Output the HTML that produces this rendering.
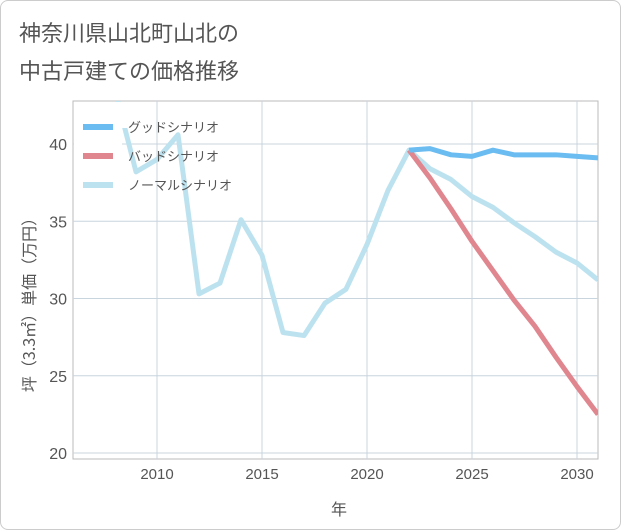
<!DOCTYPE html>
<html><head><meta charset="utf-8"><style>
body{margin:0;background:#fff;font-family:"Liberation Sans","Noto Sans CJK JP",sans-serif;}
#wrap{position:relative;width:619px;height:528px;border:1px solid #ccc;border-radius:8px;overflow:hidden;background:#fff}
</style></head><body>
<div id="wrap">
<svg id="chart" width="621" height="530">
<text x="18" y="40" font-size="22" fill="#555" font-family="Liberation Sans, Noto Sans CJK JP, sans-serif">神奈川県山北町山北の</text>
<text x="18" y="78" font-size="22" fill="#555" font-family="Liberation Sans, Noto Sans CJK JP, sans-serif">中古戸建ての価格推移</text>
<text x="338" y="514" font-size="16" fill="#555" text-anchor="middle" font-family="Noto Sans CJK JP, sans-serif">年</text>
<text transform="translate(34,300) rotate(-90)" font-size="16" fill="#555" text-anchor="middle" font-family="Noto Sans CJK JP, sans-serif">坪（3.3㎡）単価（万円）</text>
<defs><clipPath id="pc"><rect x="72" y="100" width="525" height="360"/></clipPath></defs>
<g id="grid"></g><g id="series" clip-path="url(#pc)"></g><g id="legend"></g>
</svg>
</div>
<script>
const years=[2008,2009,2010,2011,2012,2013,2014,2015,2016,2017,2018,2019,2020,2021,2022,2023,2024,2025,2026,2027,2028,2029,2030,2031];
const normal=[43.5,38.2,39.0,40.6,30.3,31.0,35.1,32.8,27.8,27.6,29.7,30.6,33.5,37.0,39.6,38.4,37.7,36.6,35.9,34.9,34.0,33.0,32.3,31.2];
const futureYears=[2022,2023,2024,2025,2026,2027,2028,2029,2030,2031];
const good=[39.6,39.7,39.3,39.2,39.6,39.3,39.3,39.3,39.2,39.1];
const bad=[39.6,37.8,35.8,33.7,31.8,29.9,28.2,26.2,24.3,22.5];
const xTicks=[2010,2015,2020,2025,2030];
const yTicks=[20,25,30,35,40];
const NS='http://www.w3.org/2000/svg';
const x=v=>156+(v-2010)*21;
const y=v=>143+(40-v)*15.45;
function mk(t,a,p){const e=document.createElementNS(NS,t);for(const k in a)e.setAttribute(k,a[k]);p.appendChild(e);return e;}
const g=document.getElementById('grid');
const frame=mk('rect',{x:72,y:100,width:525,height:358,fill:'none',stroke:'#bbb'},g);


xTicks.forEach(t=>{
 const l=mk('line',{x1:x(t),x2:x(t),y1:100,y2:458,stroke:'#c8d4de'},g);
 
 
 const tx=mk('text',{x:x(t),y:478,'font-size':15,fill:'#555','text-anchor':'middle'},g);tx.textContent=t;
 
 
});
yTicks.forEach(t=>{
 const l=mk('line',{x1:72,x2:597,y1:y(t),y2:y(t),stroke:'#c8d4de'},g);
 
 
 const tx=mk('text',{x:66,y:y(t)+6,'font-size':16,fill:'#555','text-anchor':'end'},g);tx.textContent=t;
 
 
});
const s=document.getElementById('series');
function line(xs,vs,c,n){const p=mk('polyline',{points:xs.map((v,i)=>x(v)+','+y(vs[i])).join(' '),fill:'none',stroke:c,'stroke-width':5,'stroke-linejoin':'round'},s);
 
 }
line(years,normal,'#bde2ef','normal-scenario-line');
line(futureYears,bad,'#e0868f','bad-scenario-line');
line(futureYears,good,'#6bbcf0','good-scenario-line');
const lg=document.getElementById('legend');
const bg=mk('rect',{x:73,y:101,width:48,height:97,fill:'#fff'},lg);


const bg2=mk('rect',{x:73,y:101,width:60,height:26,fill:'#fff'},lg);


[['グッドシナリオ','#6bbcf0'],['バッドシナリオ','#e0868f'],['ノーマルシナリオ','#bde2ef']].forEach((d,i)=>{
 const yy=126+i*29;
 const r=mk('rect',{x:82,y:yy-3,width:30,height:6,fill:d[1]},lg);
 
 
 const t=mk('text',{x:127,y:yy+5,'font-size':13,fill:'#555'},lg);t.textContent=d[0];
 
 
});
</script>
</body></html>
